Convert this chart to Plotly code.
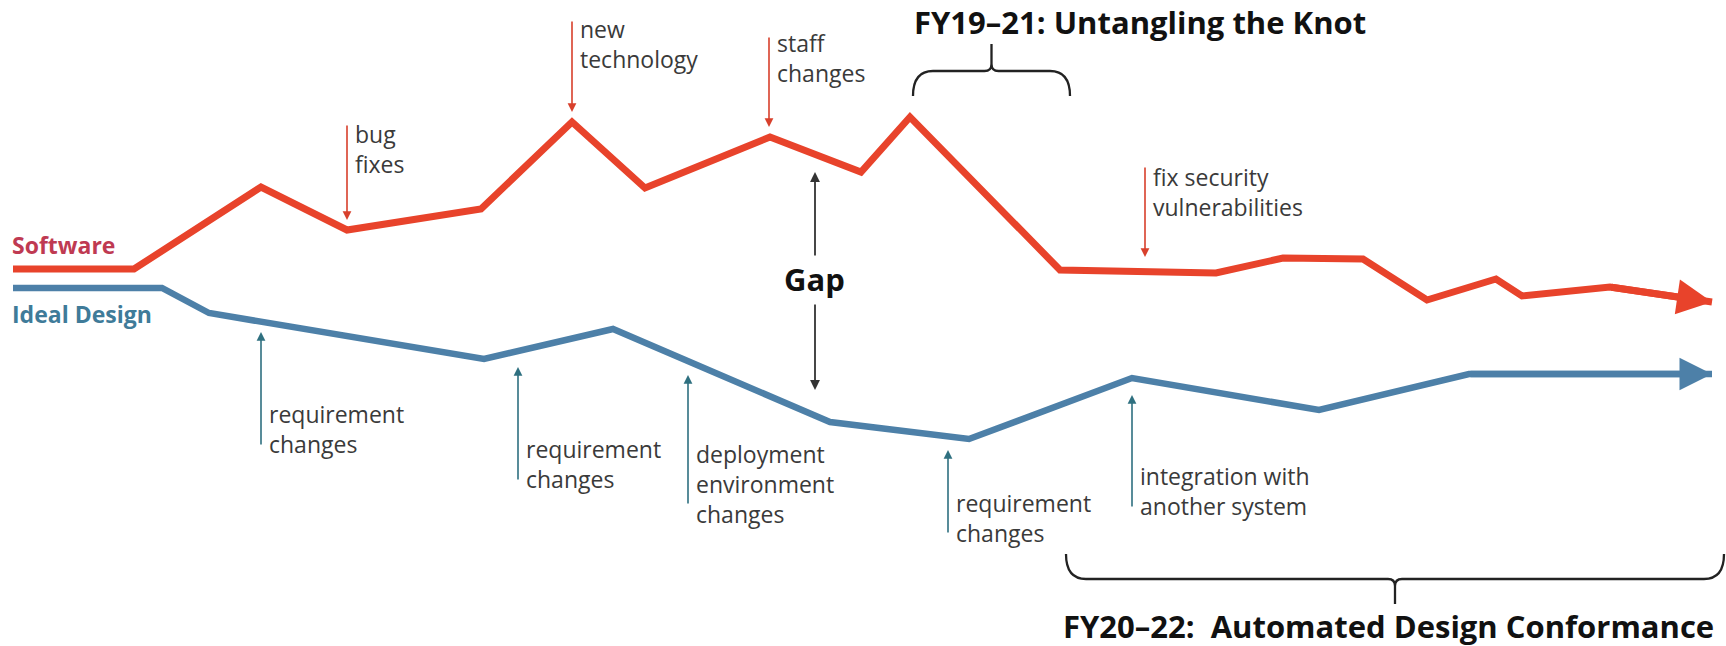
import plotly.graph_objects as go

# --- Data (x = time, y = drawing level, top = 0) ---
SOFTWARE_X = [13, 134, 261, 347, 481, 572, 645, 770, 861, 910, 1060, 1216, 1283, 1363, 1427, 1496, 1522, 1610, 1712]
SOFTWARE_Y = [269, 269, 187, 230, 209, 122, 188, 137, 172, 117, 270, 273, 258, 259, 300, 279, 296, 287, 302]

IDEAL_X = [13, 162, 209, 484, 613, 830, 969, 1132, 1319, 1469, 1712]
IDEAL_Y = [288, 288, 313, 359, 329, 422, 439, 378, 410, 374, 374]

# software events: (label, x, arrow top, arrow head, text top)
SW_EVENTS = [
    ("bug<br>fixes", 347, 124, 220, 116),
    ("new<br>technology", 572, 20, 112, 11),
    ("staff<br>changes", 769, 36, 127, 25),
    ("fix security<br>vulnerabilities", 1145, 166, 257, 159),
]
# design events: (label, x, arrow head, arrow bottom, text top)
ID_EVENTS = [
    ("requirement<br>changes", 261, 332, 446, 396),
    ("requirement<br>changes", 518, 367, 481, 431),
    ("deployment<br>environment<br>changes", 688, 375, 505, 436),
    ("requirement<br>changes", 948, 450, 534, 485),
    ("integration with<br>another system", 1132, 395, 508, 458),
]

# braces: (x start, x end, line level, end level, tip level)
BRACES = [
    (913, 1070, 71, 96, 44),
    (1066, 1724, 579, 554, 604),
]

RED = "#e8432b"
BLUE = "#4d80a8"
TXT = "#3a3a3a"
FONT = "Open Sans"


def brace_path(x0, x1, yl, ye, yt, r=20, rt=7):
    xm = (x0 + x1) / 2
    s = 1 if ye > yl else -1  # direction of the ends
    return (f"M{x0},{ye} Q{x0},{yl} {x0 + r},{yl} L{xm - rt},{yl} "
            f"Q{xm},{yl} {xm},{yl - s * rt} L{xm},{yt} "
            f"M{xm},{yl - s * rt} Q{xm},{yl} {xm + rt},{yl} L{x1 - r},{yl} "
            f"Q{x1},{yl} {x1},{ye}")


fig = go.Figure()

ann = []
for xs, ys, col, w in [(SOFTWARE_X, SOFTWARE_Y, RED, 7), (IDEAL_X, IDEAL_Y, BLUE, 6.5)]:
    fig.add_trace(go.Scatter(
        x=xs, y=ys, mode="lines",
        line=dict(color=col, width=w),
        hoverinfo="skip", showlegend=False,
    ))
    # arrow head on the last segment
    ann.append(dict(x=xs[-1], y=ys[-1], ax=xs[-2], ay=ys[-2], xref="x", yref="y",
                    axref="x", ayref="y", text="", showarrow=True, arrowhead=2,
                    arrowsize=1.0, arrowwidth=w, arrowcolor=col, standoff=0))

for label, x, top, head, ttop in SW_EVENTS:
    ann.append(dict(x=x, y=head, ax=x, ay=top, xref="x", yref="y", axref="x", ayref="y",
                    text="", showarrow=True, arrowhead=2, arrowsize=1.1, arrowwidth=1.6,
                    arrowcolor="#d8402c", standoff=0))
    ann.append(dict(x=x + 6, y=ttop, xref="x", yref="y", text=label, showarrow=False,
                    xanchor="left", yanchor="top", align="left",
                    font=dict(family=FONT, size=23, color=TXT)))

for label, x, head, bottom, ttop in ID_EVENTS:
    ann.append(dict(x=x, y=head, ax=x, ay=bottom, xref="x", yref="y", axref="x", ayref="y",
                    text="", showarrow=True, arrowhead=2, arrowsize=1.1, arrowwidth=1.6,
                    arrowcolor="#2f7080", standoff=0))
    ann.append(dict(x=x + 6, y=ttop, xref="x", yref="y", text=label, showarrow=False,
                    xanchor="left", yanchor="top", align="left",
                    font=dict(family=FONT, size=23, color=TXT)))

# gap arrows
for tail, head in [(257, 172), (303, 390)]:
    ann.append(dict(x=815, y=head, ax=815, ay=tail, xref="x", yref="y", axref="x", ayref="y",
                    text="", showarrow=True, arrowhead=2, arrowsize=1.1, arrowwidth=1.8,
                    arrowcolor="#333333", standoff=0))
ann.append(dict(x=814, y=279, xref="x", yref="y", text="<b>Gap</b>", showarrow=False,
                xanchor="center", yanchor="middle",
                font=dict(family=FONT, size=31, color="#111111")))

ann.append(dict(x=10, y=245, xref="x", yref="y", text="<b>Software</b>", showarrow=False,
                xanchor="left", yanchor="middle", font=dict(family=FONT, size=23, color="#bf3a52")))
ann.append(dict(x=10, y=314, xref="x", yref="y", text="<b>Ideal Design</b>", showarrow=False,
                xanchor="left", yanchor="middle", font=dict(family=FONT, size=23, color="#3f7b99")))

ann.append(dict(x=912, y=22, xref="x", yref="y", text="<b>FY19–21: Untangling the Knot</b>",
                showarrow=False, xanchor="left", yanchor="middle",
                font=dict(family=FONT, size=31, color="#111111")))
ann.append(dict(x=1061, y=626, xref="x", yref="y",
                text="<b>FY20–22:  Automated Design Conformance</b>",
                showarrow=False, xanchor="left", yanchor="middle",
                font=dict(family=FONT, size=31, color="#111111")))

shapes = [dict(type="path", path=brace_path(*b), xref="x", yref="y",
               line=dict(color="#222222", width=2.3)) for b in BRACES]

fig.update_layout(
    width=1726, height=646,
    margin=dict(l=0, r=0, t=0, b=0),
    paper_bgcolor="white", plot_bgcolor="white",
    xaxis=dict(range=[0, 1726], visible=False, fixedrange=True),
    yaxis=dict(range=[646, 0], visible=False, fixedrange=True),
    annotations=ann, shapes=shapes,
)

# drop the browser's default page margin so the figure fills the window
fig.write_html("out.html", config={"displayModeBar": False},
               post_script="document.body.style.margin='0';")
